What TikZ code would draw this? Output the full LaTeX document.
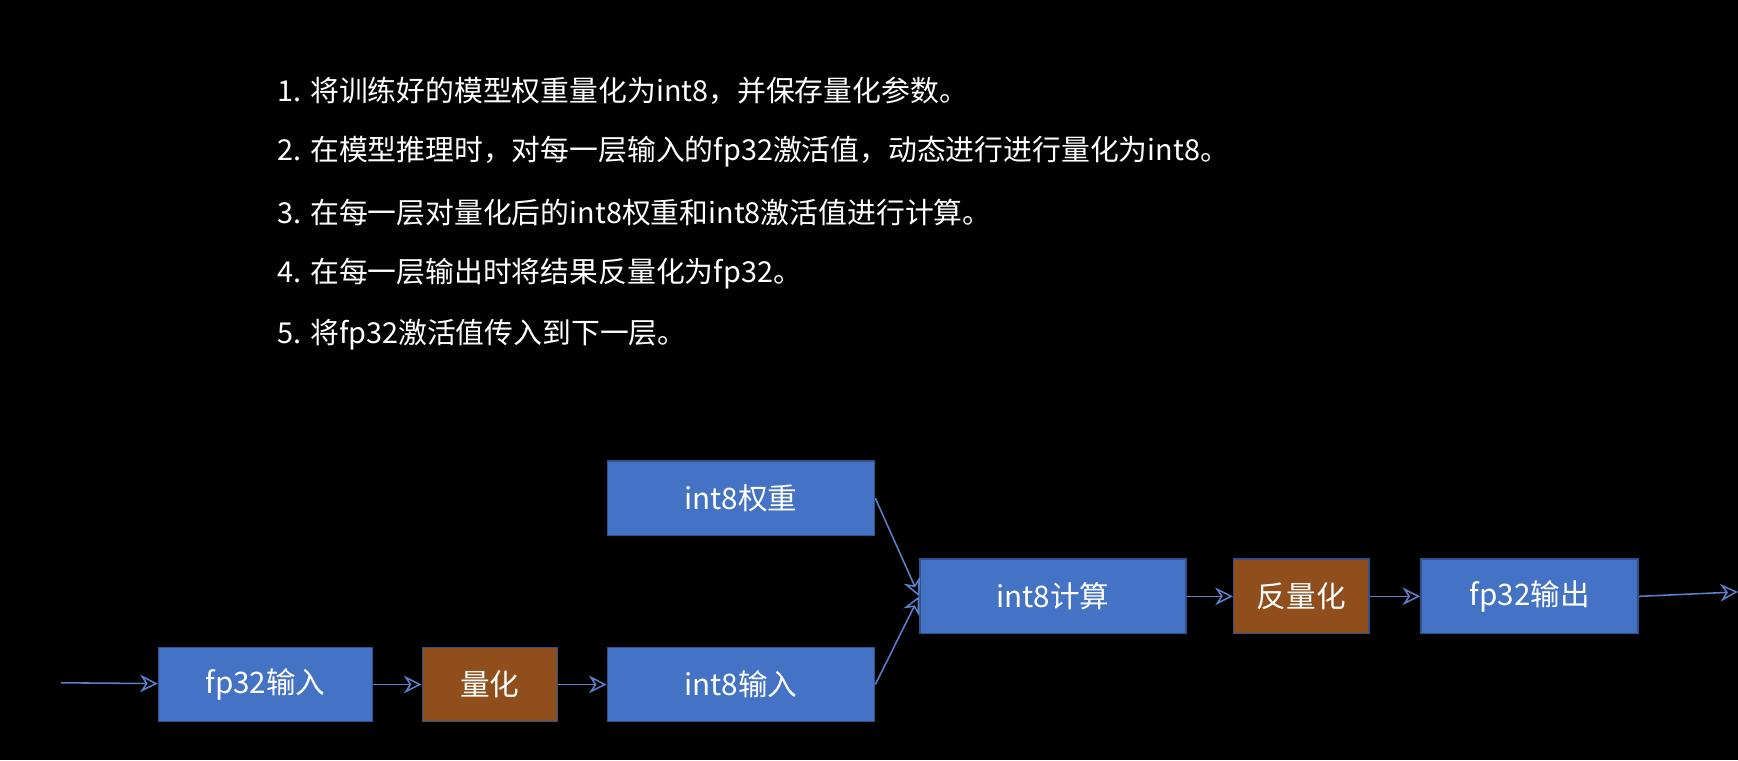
\documentclass[tikz,border=0pt]{standalone}
\usepackage{fontspec}
\setmainfont{Noto Sans CJK SC}
\usetikzlibrary{positioning,arrows.meta}
\definecolor{boxblue}{HTML}{4472C4}
\definecolor{boxbrown}{HTML}{8F4E1B}
\definecolor{edgeblue}{HTML}{2F528F}
\definecolor{arrowblue}{HTML}{5B7FC9}
\tikzset{
  stage/.style={draw=edgeblue, line width=0.4pt, fill=boxblue, text=white, minimum height=0.67cm, font=\fontsize{7.6}{9}\selectfont},
  quant/.style={stage, fill=boxbrown, minimum width=1.22cm},
  flow/.style={->, >={Stealth[length=1.6mm,width=1.6mm,open]}, draw=arrowblue, line width=0.4pt},
  item/.style={anchor=west, text=white, font=\fontsize{7.4}{9}\selectfont}
}
\begin{document}
\begin{tikzpicture}
    \fill[black] (0,0) rectangle (15.68,6.86);
    \useasboundingbox (0,0) rectangle (15.68,6.86);
    
    \node[item] (s1) at (2.38,6.04) {1. 将训练好的模型权重量化为int8，并保存量化参数。};
    \node[item] (s2) at (2.38,5.49) {2. 在模型推理时，对每一层输入的fp32激活值，动态进行进行量化为int8。};
    \node[item] (s3) at (2.38,4.94) {3. 在每一层对量化后的int8权重和int8激活值进行计算。};
    \node[item] (s4) at (2.38,4.39) {4. 在每一层输出时将结果反量化为fp32。};
    \node[item] (s5) at (2.38,3.84) {5. 将fp32激活值传入到下一层。};
    
    \node[stage, minimum width=1.93cm] (fin) at (2.395,0.685) {fp32输入};
    \node[quant] (q) at (4.42,0.685) {量化};
    \node[stage, minimum width=2.41cm] (iin) at (6.685,0.685) {int8输入};
    \node[stage, minimum width=2.41cm] (w) at (6.685,2.365) {int8权重};
    \node[stage, minimum width=2.40cm] (calc) at (9.50,1.48) {int8计算};
    \node[quant] (dq) at (11.74,1.48) {反量化};
    \node[stage, minimum width=1.96cm] (fout) at (13.80,1.48) {fp32输出};
    
    \coordinate (in) at (0.55,0.70);
    \coordinate (out) at (15.68,1.52);
    
    \draw[flow] (in) -- (fin);
    \draw[flow] (fin) -- (q);
    \draw[flow] (q) -- (iin);
    \draw[flow] (w.east) -- (calc.west);
    \draw[flow] (iin.east) -- (calc.west);
    \draw[flow] (calc) -- (dq);
    \draw[flow] (dq) -- (fout);
    \draw[flow] (fout.east) -- (out);
\end{tikzpicture}
\end{document}
